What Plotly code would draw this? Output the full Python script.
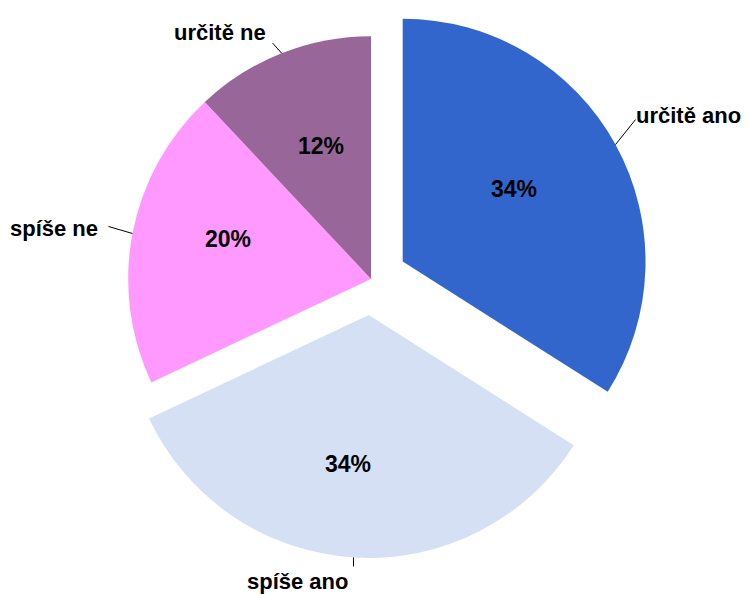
import math
import plotly.graph_objects as go

# ---- data ----
categories = ["určitě ano", "spíše ano", "spíše ne", "určitě ne"]
values = [34, 34, 20, 12]
pulls = [0.149, 0.149, 0.0, 0.0]
colors = ["#3366CC", "#D6E0F5", "#FF99FF", "#996699"]

# ---- layout constants ----
FW, FH = 748, 594
ML, MR, MT, MB = 90, 96, 0, 36
W = FW - ML - MR
H = FH - MT - MB
FONT = "Liberation Sans, Arial, sans-serif"

fig = go.Figure()
fig.add_trace(go.Pie(
    labels=categories,
    values=values,
    pull=pulls,
    sort=False,
    direction="clockwise",
    rotation=0,
    marker=dict(colors=colors, line=dict(width=0)),
    textinfo="none",
    hoverinfo="label+percent",
    showlegend=False,
))

# ---- labels positioned from slice angles ----
cx = ML + W / 2
cy = MT + H / 2
r = min(W, H) / 2 / (1 + max(pulls))
total = sum(values)

# style per label: leader length, leader tilt (deg), text offset from line end,
# anchor, radial fraction of % text, % text nudge
label_style = [
    (32, -22.5, (-1, -4), "left", 0.54, (-4, -9)),
    (9, -3.6, (-3, 15), "right", 0.62, (-11, -1)),
    (25, 5.5, (-8, 2), "right", 0.61, (2, -12)),
    (13.5, -20, (-5, -11), "right", 0.57, (1, -4)),
]

def to_paper(px, py):
    return (px - ML) / W, 1 - (py - MT) / H

shapes = []
annotations = []
cum = 0
for cat, v, p, (L, tilt, (dx, dy), anchor, f, (nx, ny)) in zip(categories, values, pulls, label_style):
    mid = (cum + v / 2) / total * 2 * math.pi
    cum += v
    ux, uy = math.sin(mid), -math.cos(mid)
    ax0 = cx + r * p * ux
    ay0 = cy + r * p * uy
    ex = ax0 + r * ux
    ey = ay0 + r * uy
    la = mid + math.radians(tilt)
    lx = ex + L * math.sin(la)
    ly = ey - L * math.cos(la)
    x0, y0 = to_paper(ex, ey)
    x1, y1 = to_paper(lx, ly)
    shapes.append(dict(type="line", xref="paper", yref="paper",
                       x0=x0, y0=y0, x1=x1, y1=y1,
                       line=dict(color="black", width=1)))
    tx, ty = to_paper(lx + dx, ly + dy)
    annotations.append(dict(text=cat, xref="paper", yref="paper", x=tx, y=ty,
                            xanchor=anchor, yanchor="middle", showarrow=False,
                            font=dict(family=FONT, size=22, color="black", weight="bold")))
    px_, py_ = to_paper(ax0 + f * r * ux + nx, ay0 + f * r * uy + ny)
    annotations.append(dict(text=f"{round(v / total * 100)}%", xref="paper", yref="paper",
                            x=px_, y=py_, xanchor="center", yanchor="middle", showarrow=False,
                            font=dict(family=FONT, size=23, color="black", weight="bold")))

fig.update_layout(
    width=FW, height=FH,
    margin=dict(l=ML, r=MR, t=MT, b=MB),
    paper_bgcolor="white",
    plot_bgcolor="white",
    shapes=shapes,
    annotations=annotations,
)

fig.write_html("out.html", config={"displayModeBar": False},
               post_script="document.body.style.margin='0';document.body.style.overflow='hidden';")
